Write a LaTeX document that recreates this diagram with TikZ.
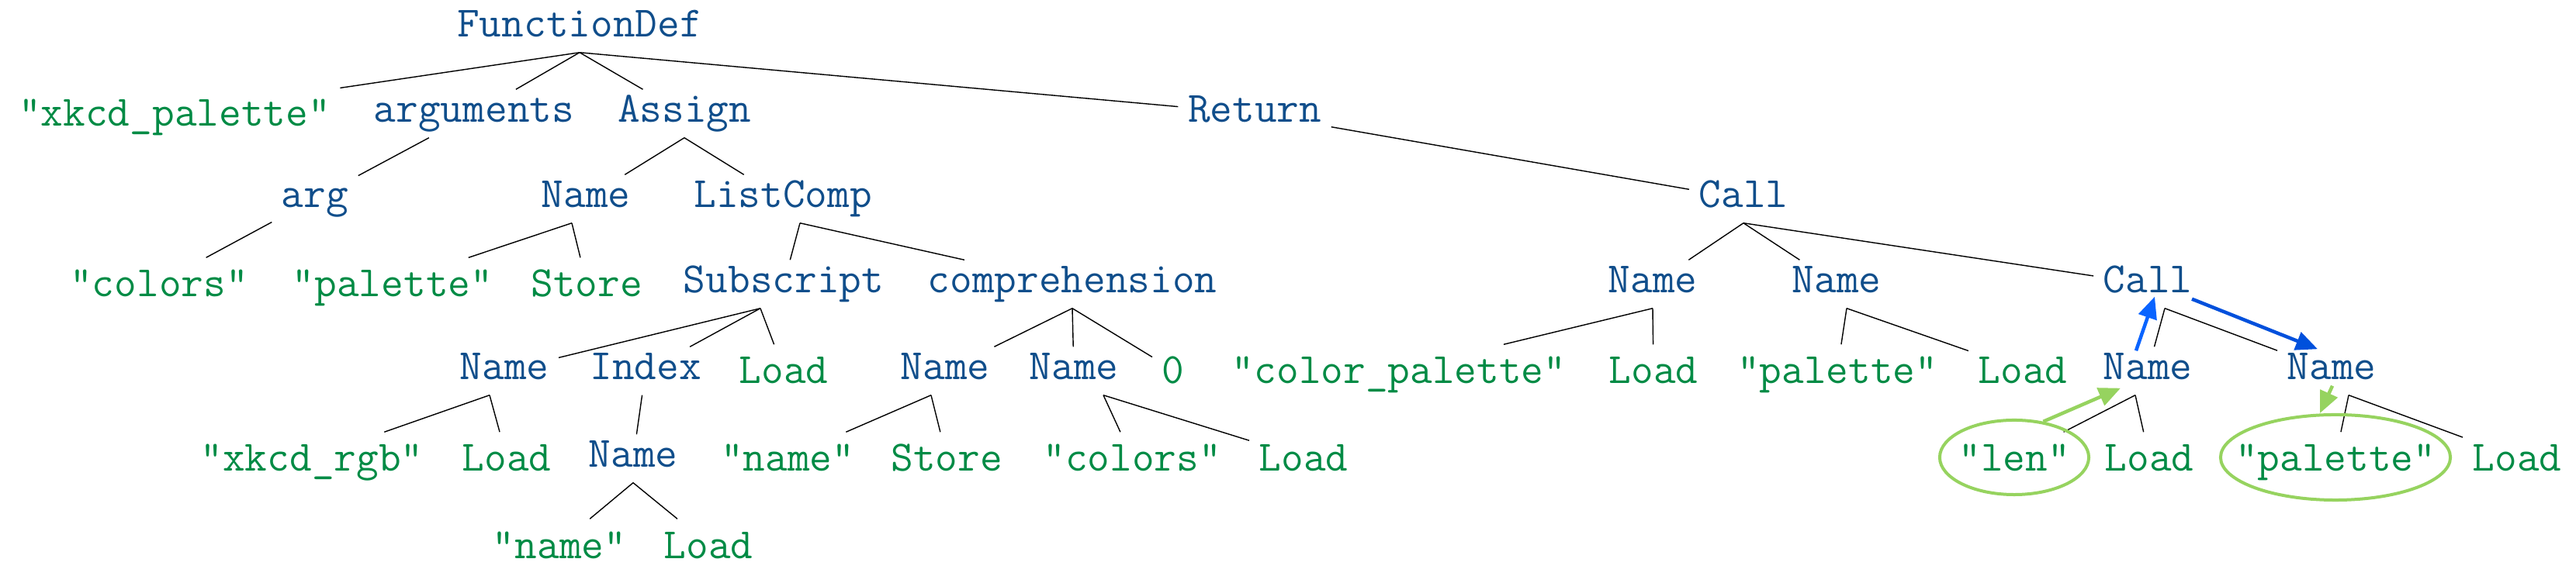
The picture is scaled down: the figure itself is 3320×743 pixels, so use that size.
\documentclass[tikz,border=0pt]{standalone}
\usepackage{fontspec}
\newfontfamily\astfont{Latin Modern Mono}
\usetikzlibrary{arrows.meta,shapes.geometric}
\definecolor{astblue}{HTML}{104E8B}
\definecolor{astgreen}{HTML}{008B45}
\definecolor{flowblue}{HTML}{0A64FF}
\definecolor{flowdark}{HTML}{0050DC}
\definecolor{flowgreen}{HTML}{96D35F}

\begin{document}
\begin{tikzpicture}[x=0.01cm, y=-0.01cm,
  ast/.style={anchor=base, inner xsep=0.12cm, inner ysep=0pt, font=\fontsize{15.83pt}{18pt}\astfont},
  nd/.style={ast, text=astblue, text height=0.42cm, text depth=0.19cm},
  lf/.style={ast, text=astgreen, text height=0.50cm, text depth=0.14cm},
  edge/.style={line width=0.4pt},
  ring/.style={draw=flowgreen, ellipse, line width=0.04cm, inner sep=0pt},
  flow/.style={-{Triangle[length=0.28cm,width=0.24cm]}, line width=0.045cm}]
  \useasboundingbox (0,0) rectangle (3320,743);

  % row 1 and 2
  \node[nd] (fnDef) at (747,48) {FunctionDef};
  \node[lf] (strFn) at (225,163) {"xkcd\_palette"};
  \node[nd] (args) at (611,158) {arguments};
  \node[nd] (assign) at (882,158) {Assign};
  \node[nd] (ret) at (1617,158) {Return};

  % row 3
  \node[nd] (arg) at (406,268) {arg};
  \node[nd] (nmPal3) at (755,268) {Name};
  \node[nd] (listComp) at (1009,268) {ListComp};
  \node[nd] (callA) at (2247,268) {Call};

  % row 4
  \node[lf] (strColors) at (205,383) {"colors"};
  \node[lf] (strPalette) at (506,383) {"palette"};
  \node[lf] (store) at (756,383) {Store};
  \node[nd] (subscr) at (1010,378) {Subscript};
  \node[nd] (comp) at (1382,378) {comprehension};
  \node[nd] (nmColorPal) at (2130,378) {Name};
  \node[nd] (nmPalArg) at (2367,378) {Name};
  \node[nd] (callB) at (2768,378) {Call};

  % row 5
  \node[nd] (nmRgb) at (650,490) {Name};
  \node[nd] (index) at (832,490) {Index};
  \node[lf] (loadSub) at (1010,495) {Load};
  \node[nd] (nmTarget) at (1218,490) {Name};
  \node[nd] (nmIter) at (1384,490) {Name};
  \node[lf] (zero) at (1512,495) {0};
  \node[lf] (strColorPal) at (1803,495) {"color\_palette"};
  \node[lf] (loadCP) at (2131,495) {Load};
  \node[lf] (strPalArg) at (2368,495) {"palette"};
  \node[lf] (loadPA) at (2607,495) {Load};
  \node[nd] (nmLen) at (2768,490) {Name};
  \node[nd] (nmPal) at (3005,490) {Name};

  % row 6
  \node[lf] (strRgb) at (402,608) {"xkcd\_rgb"};
  \node[lf] (loadRgb) at (653,608) {Load};
  \node[nd] (nmName) at (816,603) {Name};
  \node[lf] (strName) at (1015,608) {"name"};
  \node[lf] (storeT) at (1220,608) {Store};
  \node[lf] (strColors2) at (1459,608) {"colors"};
  \node[lf] (loadIter) at (1680,608) {Load};
  \node[lf] (strLen) at (2596,608) {"len"};
  \node[lf] (loadLen) at (2770,608) {Load};
  \node[lf] (strPal) at (3010,608) {"palette"};
  \node[lf] (loadPal) at (3244,608) {Load};

  % row 7
  \node[lf] (strName2) at (721,720) {"name"};
  \node[lf] (loadName) at (913,720) {Load};

  % tree edges
  \foreach \c in {strFn,args,assign,ret}
    \draw[edge] (fnDef.south) -- (\c);
  \draw[edge] (args) -- (arg);
  \draw[edge] (arg) -- (strColors);
  \foreach \c in {nmPal3,listComp}
    \draw[edge] (assign.south) -- (\c);
  \foreach \c in {strPalette,store}
    \draw[edge] ([xshift=-0.18cm]nmPal3.south) -- (\c);
  \foreach \c in {subscr,comp}
    \draw[edge] ([xshift=0.22cm]listComp.south) -- (\c);
  \foreach \c in {nmRgb,index,loadSub}
    \draw[edge] ([xshift=-0.30cm]subscr.south) -- (\c);
  \foreach \c in {nmTarget,nmIter,zero}
    \draw[edge] (comp.south) -- (\c);
  \foreach \c in {strRgb,loadRgb}
    \draw[edge] ([xshift=-0.19cm]nmRgb.south) -- (\c);
  \draw[edge] (index) -- (nmName);
  \foreach \c in {strName2,loadName}
    \draw[edge] (nmName.south) -- (\c);
  \foreach \c in {strName,storeT}
    \draw[edge] ([xshift=-0.18cm]nmTarget.south) -- (\c);
  \foreach \c in {strColors2,loadIter}
    \draw[edge] ([xshift=0.38cm]nmIter.south) -- (\c);
  \draw[edge] (ret) -- (callA);
  \foreach \c in {nmColorPal,nmPalArg,callB}
    \draw[edge] (callA.south) -- (\c);
  \foreach \c in {strColorPal,loadCP}
    \draw[edge] (nmColorPal.south) -- (\c);
  \foreach \c in {strPalArg,loadPA}
    \draw[edge] ([xshift=0.13cm]nmPalArg.south) -- (\c);
  \foreach \c in {nmLen,nmPal}
    \draw[edge] ([xshift=0.22cm]callB.south) -- (\c);
  \foreach \c in {strLen,loadLen}
    \draw[edge] ([xshift=-0.16cm]nmLen.south) -- (\c);
  \foreach \c in {strPal,loadPal}
    \draw[edge] ([xshift=0.22cm]nmPal.south) -- (\c);

  % highlighted names
  \node[ring, minimum width=1.92cm, minimum height=0.96cm] (lenRing) at (strLen) {};
  \node[ring, minimum width=2.96cm, minimum height=1.10cm] (palRing) at (strPal) {};
  \draw[flow, flowgreen] (lenRing.51) -- ([xshift=-0.35cm,yshift=0.09cm]nmLen.south);
  \draw[flow, flowblue] ([xshift=-0.15cm,yshift=-0.05cm]nmLen.north) -- ([xshift=0.09cm,yshift=0.15cm]callB.south);
  \draw[flow, flowdark] ([xshift=0.57cm,yshift=0.12cm]callB.south) -- ([xshift=-0.18cm,yshift=-0.03cm]nmPal.north);
  \draw[flow, flowgreen] ([xshift=0.01cm,yshift=0.12cm]nmPal.south) -- ([xshift=-0.2cm]palRing.north);
\end{tikzpicture}
\end{document}
